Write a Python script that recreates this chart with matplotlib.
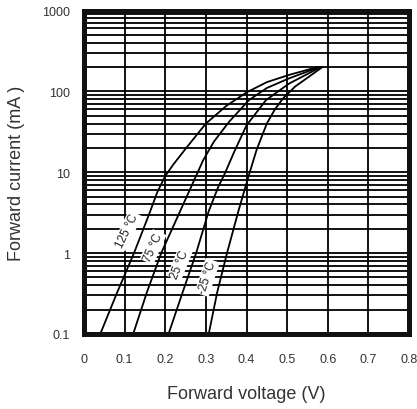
import matplotlib
matplotlib.use("Agg")
import matplotlib.pyplot as plt
from matplotlib.ticker import FixedLocator, LogLocator, NullFormatter

# forward voltage (V) / forward current (mA)
v_125 = [0.040, 0.082, 0.123, 0.160, 0.180, 0.200, 0.220, 0.250, 0.300, 0.350, 0.400, 0.450, 0.505, 0.575]
i_125 = [0.1, 0.33, 1.0, 3.0, 5.6, 9.0, 12.5, 19.5, 40, 66, 97, 130, 160, 200]

v_75 = [0.121, 0.155, 0.190, 0.240, 0.260, 0.280, 0.293, 0.320, 0.357, 0.406, 0.450, 0.505, 0.580]
i_75 = [0.1, 0.33, 1.0, 3.6, 6.0, 10, 14, 24, 42, 78, 110, 145, 200]

v_25 = [0.208, 0.243, 0.276, 0.307, 0.330, 0.348, 0.370, 0.400, 0.448, 0.505, 0.583]
i_25 = [0.1, 0.33, 1.0, 3.3, 6.5, 10, 18, 38, 78, 125, 200]

v_m25 = [0.307, 0.328, 0.352, 0.380, 0.395, 0.408, 0.425, 0.450, 0.470, 0.490, 0.520, 0.587]
i_m25 = [0.1, 0.33, 1.0, 3.3, 6.0, 10, 19, 40, 60, 82, 115, 200]

curve_labels = ["125 °C", "75 °C", "25 °C", "-25 °C"]
label_v = [0.106, 0.170, 0.236, 0.303]
label_i = [1.9, 1.19, 0.74, 0.50]

x_ticks = [0, 0.1, 0.2, 0.3, 0.4, 0.5, 0.6, 0.7, 0.8]
x_ticklabels = ["0", "0.1", "0.2", "0.3", "0.4", "0.5", "0.6", "0.7", "0.8"]
y_ticks = [0.1, 1, 10, 100, 1000]
y_ticklabels = ["0.1", "1", "10", "100", "1000"]

plt.rcParams["font.family"] = ["Liberation Sans", "DejaVu Sans"]

fig = plt.figure(figsize=(4.17, 4.10), dpi=100)
ax = fig.add_axes([84 / 417, 1 - 335 / 410, 325 / 417, 323.5 / 410])

ax.set_yscale("log")
ax.set_xlim(0, 0.8)
ax.set_ylim(0.1, 1000)

ax.xaxis.set_major_locator(FixedLocator(x_ticks))
ax.set_xticklabels(x_ticklabels)
ax.yaxis.set_major_locator(FixedLocator(y_ticks))
ax.set_yticklabels(y_ticklabels)
ax.yaxis.set_minor_locator(LogLocator(base=10, subs=range(2, 10)))
ax.yaxis.set_minor_formatter(NullFormatter())

ax.grid(True, which="major", color="black", lw=1.3)
ax.grid(True, which="minor", axis="y", color="black", lw=1.3)
ax.tick_params(which="both", length=0, labelsize=9, colors="#333333")
ax.tick_params(axis="x", pad=14)
ax.tick_params(axis="y", pad=10)
for s in ax.spines.values():
    s.set_linewidth(3.6)
    s.set_color("#111111")

for v, i in [(v_125, i_125), (v_75, i_75), (v_25, i_25), (v_m25, i_m25)]:
    ax.plot(v, i, color="black", lw=1.3)

rots = [64, 66, 68, 72]
for txt, x, y, r in zip(curve_labels, label_v, label_i, rots):
    ax.text(x, y, txt, rotation=r, fontsize=8.5, color="#222222",
            ha="center", va="center",
            bbox=dict(facecolor="white", edgecolor="none", pad=1.0))

ax.set_xlabel("Forward voltage (V)", fontsize=13, color="#333333")
ax.set_ylabel("Forward current (mA )", fontsize=13, color="#333333")
ax.xaxis.set_label_coords(0.5, -0.158)
ax.yaxis.set_label_coords(-0.182, 0.5)

fig.savefig("out.png", dpi=100)
